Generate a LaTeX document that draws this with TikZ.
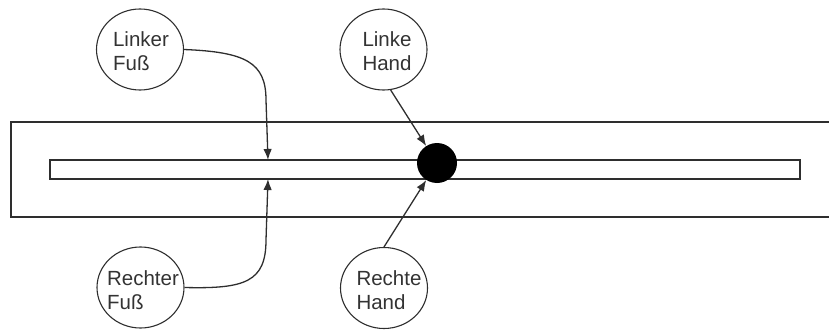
\documentclass[tikz,border=0pt]{standalone}
\usepackage{fontspec}
\setmainfont{Liberation Sans}
\usetikzlibrary{shapes.geometric,arrows.meta}
\definecolor{ln}{HTML}{2E2E2E}
\definecolor{tx}{HTML}{333333}
\begin{document}
\begin{tikzpicture}[x=1pt,y=-1pt,
  bubble/.style={draw=ln, ellipse, minimum width=87pt, minimum height=81pt, inner sep=0pt, line width=1.1pt},
  lbl/.style={text=tx, align=left, font=\fontsize{20.5pt}{24pt}\selectfont, inner sep=0pt},
  box/.style={draw=ln, rectangle, inner sep=0pt, line width=1.3pt},
  arr/.style={draw=ln, line width=1.3pt, -{Latex[length=11pt,width=8.5pt]}}]
\useasboundingbox (0,0) rectangle (829,329);
% outer bar (runs off the right edge)
\draw[ln, line width=1.3pt] (829,122) -- (11,122) -- (11,217) -- (829,217);
% inner bar
\node[box, minimum width=750pt, minimum height=19pt] (inner) at (425,169.5) {};
% dot
\node[circle, fill=black, minimum size=40pt, inner sep=0pt] (dot) at (437,163) {};
% bubbles
\node[bubble] (lf) at (140,49.5) {};
\node[lbl] at (141,51) {Linker\\Fuß};
\node[bubble] (rf) at (140.5,287.5) {};
\node[lbl] at (143,290) {Rechter\\Fuß};
\node[bubble] (lh) at (383.5,49.5) {};
\node[lbl] at (387,51) {Linke\\Hand};
\node[bubble] (rh) at (384,288) {};
\node[lbl] at (389,290) {Rechte\\Hand};
% arrow ends
\coordinate (lfend) at (268,160);
\coordinate (rfend) at (268,179);
% connectors
\draw[arr] (lf.east) .. controls (245,52) and (266,62) .. (266,100) -- (lfend);
\draw[arr] (rf.east) .. controls (245,289) and (266,282) .. (266,240) -- (rfend);
\draw[arr] (lh.280) -- (dot);
\draw[arr] (rh.north) -- (dot);
\end{tikzpicture}
\end{document}
